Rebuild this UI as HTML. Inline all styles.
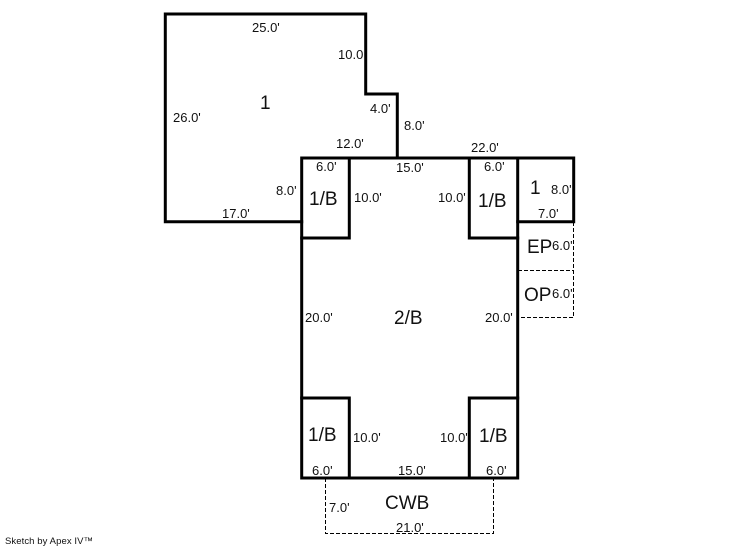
<!DOCTYPE html>
<html>
<head>
<meta charset="utf-8">
<style>
html,body{margin:0;padding:0;background:#fff}
svg{display:block}
text{font-family:"Liberation Sans",Arial,sans-serif;fill:#111;font-size:13px}
.b{font-size:19px}
.s{font-size:9.5px}
</style>
</head>
<body>
<svg width="746" height="547" viewBox="0 0 746 547" xmlns="http://www.w3.org/2000/svg">
<g fill="none" stroke="#000" stroke-width="1" stroke-dasharray="4 2">
<path d="M573.5 222V317.5H518"/>
<path d="M518 270.5H573.5"/>
<path d="M325.5 478V533.5H493.5V478"/>
</g>
<g fill="none" stroke="#000" stroke-width="3" stroke-linecap="square" stroke-linejoin="miter">
<path d="M301.7 221.7H165.3V14H365.7V94H397.3V158"/>
<path d="M301.7 158H517.7V478H301.7Z"/>
<path d="M349.3 158V238H301.7"/>
<path d="M469.3 158V238H517.7"/>
<path d="M517.7 158H573.7V221.7H517.7"/>
<path d="M301.7 398H349.3V478"/>
<path d="M517.7 398H469.3V478"/>
</g>
<text x="252" y="32">25.0'</text>
<text x="338" y="59">10.0</text>
<text x="370" y="113">4.0'</text>
<text x="404" y="130">8.0'</text>
<text x="336" y="148">12.0'</text>
<text x="173" y="122">26.0'</text>
<text class="b" x="260" y="109">1</text>
<text x="316" y="171">6.0'</text>
<text x="396" y="172">15.0'</text>
<text x="471" y="152">22.0'</text>
<text x="484" y="171">6.0'</text>
<text x="276" y="195">8.0'</text>
<text class="b" x="309" y="205">1/B</text>
<text x="354" y="202">10.0'</text>
<text x="222" y="218">17.0'</text>
<text x="438" y="202">10.0'</text>
<text class="b" x="478" y="207">1/B</text>
<text class="b" x="530" y="194">1</text>
<text x="551" y="194">8.0'</text>
<text x="538" y="218">7.0'</text>
<text class="b" x="527" y="253">EP</text>
<text x="552" y="250">6.0'</text>
<text class="b" x="524" y="301">OP</text>
<text x="552" y="298">6.0'</text>
<text x="305" y="322">20.0'</text>
<text x="485" y="322">20.0'</text>
<text class="b" x="394" y="324">2/B</text>
<text class="b" x="308" y="441">1/B</text>
<text x="353" y="442">10.0'</text>
<text x="440" y="442">10.0'</text>
<text class="b" x="479" y="442">1/B</text>
<text x="312" y="475">6.0'</text>
<text x="398" y="475">15.0'</text>
<text x="486" y="475">6.0'</text>
<text x="329" y="512">7.0'</text>
<text class="b" x="385" y="509">CWB</text>
<text x="396" y="532">21.0'</text>
<text class="s" x="5" y="544" textLength="88">Sketch by Apex IV™</text>
</svg>
</body>
</html>
